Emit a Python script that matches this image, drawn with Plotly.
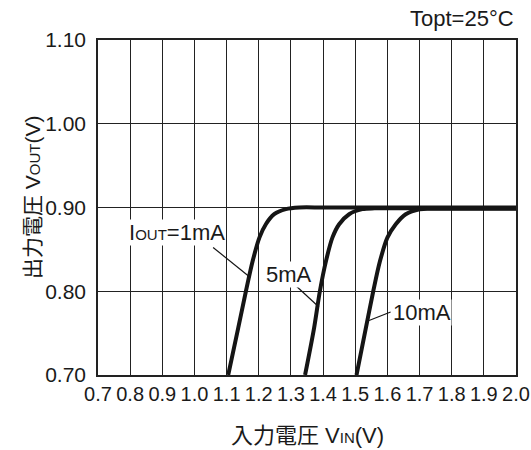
import plotly.graph_objects as go

# Data
vin_1mA = [1.105, 1.136, 1.160, 1.181, 1.202, 1.222, 1.248, 1.284, 1.326, 1.40, 1.60, 1.80, 2.00]
vout_1mA = [0.700, 0.756, 0.800, 0.836, 0.864, 0.880, 0.892, 0.898, 0.900, 0.900, 0.900, 0.900, 0.900]

vin_5mA = [1.344, 1.372, 1.390, 1.409, 1.429, 1.450, 1.481, 1.522, 1.56, 1.70, 1.85, 2.00]
vout_5mA = [0.700, 0.756, 0.800, 0.836, 0.864, 0.880, 0.892, 0.898, 0.899, 0.899, 0.899, 0.899]

vin_10mA = [1.504, 1.533, 1.556, 1.577, 1.600, 1.626, 1.657, 1.700, 1.74, 1.85, 2.00]
vout_10mA = [0.700, 0.756, 0.800, 0.836, 0.864, 0.880, 0.892, 0.898, 0.8985, 0.8985, 0.8985]

x_ticks = [0.7, 0.8, 0.9, 1.0, 1.1, 1.2, 1.3, 1.4, 1.5, 1.6, 1.7, 1.8, 1.9, 2.0]
y_ticks = [0.70, 0.80, 0.90, 1.00, 1.10]

labels = ["I<span style='font-size:15px'>OUT</span>=1mA", "5mA", "10mA"]
label_pos = [(0.946, 0.8707), (1.294, 0.8204), (1.708, 0.7749)]
leaders = [((1.058, 0.8523), (1.170, 0.8175)),
           ((1.318, 0.8056), (1.387, 0.7812)),
           ((1.610, 0.7752), (1.543, 0.7650))]

FONT = "Liberation Sans, Arial, sans-serif"
CJK = "Liberation Sans, Noto Sans CJK JP, sans-serif"

fig = go.Figure()
for xs, ys in [(vin_1mA, vout_1mA), (vin_5mA, vout_5mA), (vin_10mA, vout_10mA)]:
    fig.add_trace(go.Scatter(x=xs, y=ys, mode="lines",
                             line=dict(color="#151515", width=4, shape="spline", smoothing=0.8),
                             showlegend=False, hoverinfo="skip"))

for (x0, y0), (x1, y1) in leaders:
    fig.add_shape(type="line", x0=x0, y0=y0, x1=x1, y1=y1, xref="x", yref="y",
                  line=dict(color="#151515", width=1.2))

for txt, (x, y) in zip(labels, label_pos):
    fig.add_annotation(x=x, y=y, text=txt, showarrow=False, xref="x", yref="y",
                       font=dict(family=FONT, size=22, color="#1a1a1a"),
                       bgcolor="white", borderpad=0)

fig.add_annotation(x=1.0, y=1.0, xref="paper", yref="paper", xanchor="right", yanchor="bottom",
                   yshift=7, text="Topt=25°C", showarrow=False,
                   font=dict(family=FONT, size=22, color="#1a1a1a"))

fig.add_annotation(x=0, y=0.5, xref="paper", yref="paper", xshift=-79, yshift=10, textangle=-90,
                   text="出力電圧 V<span style='font-size:15px'>OUT</span>(V)", showarrow=False,
                   font=dict(family=CJK, size=21, color="#1a1a1a"))

fig.add_annotation(x=0.5, y=0, xref="paper", yref="paper", yshift=-60, yanchor="middle",
                   text="入力電圧 V<span style='font-size:15px'>IN</span>(V)", showarrow=False,
                   font=dict(family=CJK, size=22, color="#1a1a1a"))

fig.update_xaxes(range=[0.7, 2.0], tickvals=x_ticks, ticktext=[f"{v:.1f}" for v in x_ticks],
                 showgrid=True, gridcolor="#222", gridwidth=1, zeroline=False, automargin=False,
                 showline=True, linecolor="#222", linewidth=1.5, mirror=True, ticks="",
                 tickfont=dict(family="Liberation Sans Narrow, Arial Narrow, Liberation Sans", size=20, color="#1a1a1a"))
fig.update_yaxes(range=[0.70, 1.10], tickvals=y_ticks, ticktext=[f"{v:.2f}" for v in y_ticks],
                 showgrid=True, gridcolor="#222", gridwidth=1, zeroline=False, automargin=False,
                 showline=True, linecolor="#222", linewidth=1.5, mirror=True, ticks="",
                 tickfont=dict(family=FONT, size=21, color="#1a1a1a"), ticklabelstandoff=6)

fig.update_layout(width=531, height=450, margin=dict(l=98, r=15, t=40, b=75, autoexpand=False),
                  plot_bgcolor="white", paper_bgcolor="white")

fig.write_html("out.html")
